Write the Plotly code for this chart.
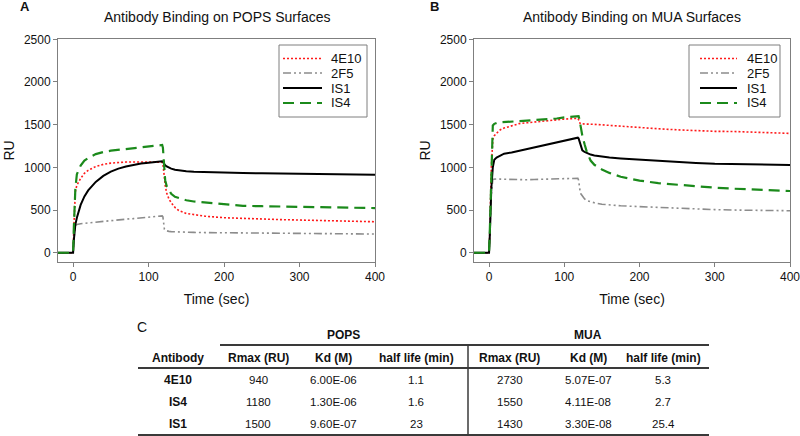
import plotly.graph_objects as go

W, H = 800, 436

# ---------------- data ----------------
time_sec = [-20, -1, 0, 1, 2, 3, 5, 7, 10, 15, 20, 30, 40, 50, 60, 70, 80, 90, 100, 110,
            118, 119, 120, 121, 122, 124, 127, 130, 135, 140, 150, 160, 175, 200, 225,
            250, 275, 300, 325, 350, 375, 400]

series_names = ["4E10", "2F5", "IS1", "IS4"]

# Panel A: POPS surfaces
pops_4e10 = [0, 0, 0, 300, 550, 720, 790, 830, 870, 930, 965, 1010, 1035, 1050, 1058, 1062, 1063,
             1064, 1063, 1062, 1060, 1040, 980, 880, 790, 700, 630, 585, 530, 495, 460, 445, 428,
             410, 400, 392, 388, 383, 378, 372, 368, 363]
pops_2f5 = [0, 0, 0, 150, 280, 320, 330, 335, 340, 345, 350, 360, 368, 375, 385, 393, 400, 410,
            418, 425, 432, 420, 330, 275, 262, 255, 250, 247, 244, 242, 240, 238, 236, 233, 231,
            229, 228, 226, 225, 223, 221, 219]
pops_is1 = [0, 0, 0, 150, 260, 330, 410, 480, 560, 660, 730, 830, 900, 950, 985, 1010, 1030, 1045,
            1055, 1065, 1072, 1065, 1050, 1035, 1025, 1010, 995, 985, 972, 965, 955, 948, 943, 938,
            934, 930, 928, 926, 923, 920, 917, 914]
pops_is4 = [0, 0, 0, 300, 550, 750, 920, 960, 1020, 1080, 1110, 1155, 1180, 1195, 1205, 1215, 1223,
            1232, 1240, 1250, 1262, 1230, 1100, 950, 850, 780, 730, 690, 655, 640, 615, 600, 588,
            565, 550, 545, 541, 538, 533, 530, 527, 523]

# Panel B: MUA surfaces
mua_4e10 = [0, 0, 0, 250, 600, 1000, 1330, 1370, 1400, 1440, 1460, 1490, 1512, 1522, 1532, 1540,
            1550, 1558, 1565, 1570, 1575, 1560, 1530, 1515, 1510, 1508, 1507, 1506, 1505, 1504,
            1498, 1490, 1476, 1466, 1452, 1440, 1430, 1422, 1420, 1415, 1408, 1398]
mua_2f5 = [0, 0, 0, 200, 450, 680, 860, 865, 865, 862, 860, 860, 858, 855, 858, 860, 862, 862, 865,
           868, 872, 850, 760, 720, 690, 660, 630, 610, 595, 585, 568, 560, 550, 540, 530, 522, 512,
           505, 500, 496, 493, 492]
mua_is1 = [0, 0, 0, 200, 480, 750, 1000, 1090, 1115, 1140, 1160, 1175, 1195, 1215, 1235, 1255, 1272,
           1290, 1310, 1328, 1348, 1340, 1310, 1270, 1235, 1200, 1180, 1165, 1150, 1140, 1125, 1115,
           1105, 1090, 1075, 1062, 1052, 1042, 1037, 1040, 1035, 1027]
mua_is4 = [0, 0, 0, 250, 600, 1000, 1490, 1510, 1520, 1527, 1530, 1537, 1542, 1548, 1553, 1558,
           1563, 1572, 1585, 1596, 1605, 1600, 1570, 1520, 1460, 1370, 1270, 1180, 1080, 1030, 975,
           935, 890, 845, 815, 795, 775, 762, 750, 742, 732, 723]

x_ticks = [0, 100, 200, 300, 400]
y_ticks = [0, 500, 1000, 1500, 2000, 2500]

# Panel C table
table_antibodies = ["4E10", "IS4", "IS1"]
table_col_headers = ["Antibody", "Rmax (RU)", "Kd (M)", "half life (min)",
                     "Rmax (RU)", "Kd (M)", "half life (min)"]
table_groups = ["POPS", "MUA"]
pops_rmax = [940, 1180, 1500]
pops_kd = [6.00e-06, 1.30e-06, 9.60e-07]
pops_half_life = ["1.1", "1.6", "23"]
mua_rmax = [2730, 1550, 1430]
mua_kd = [5.07e-07, 4.11e-08, 3.30e-08]
mua_half_life = ["5.3", "2.7", "25.4"]

# ---------------- styling ----------------
FONT = "Liberation Sans, Arial, sans-serif"
styles = {
    "4E10": dict(color="#ff1a1a", width=1.6, dash="2px,2px"),
    "2F5": dict(color="#8c8c8c", width=1.6, dash="8px,3px,2px,3px,2px,3px"),
    "IS1": dict(color="#000000", width=2.0, dash="solid"),
    "IS4": dict(color="#1b8a1b", width=2.2, dash="11px,6px"),
}


def px(x):
    return x / W


def py(y):
    return 1 - y / H


fig = go.Figure()

panels = [
    ("x", "y", [pops_4e10, pops_2f5, pops_is1, pops_is4]),
    ("x2", "y2", [mua_4e10, mua_2f5, mua_is1, mua_is4]),
]
for xa, ya, data in panels:
    for name, vals in zip(series_names, data):
        fig.add_trace(go.Scatter(
            x=time_sec, y=vals, mode="lines", name=name, showlegend=False,
            line=styles[name], xaxis=xa, yaxis=ya,
        ))

axis_common = dict(
    showline=True, linecolor="#7f7f7f", linewidth=1, mirror=True,
    ticks="outside", ticklen=4, tickcolor="#7f7f7f", showgrid=False, zeroline=False,
    tickfont=dict(family=FONT, size=12, color="#111111"), automargin=False,
    ticklabeloverflow="allow",
)
y_top, y_bot = 39.3, 261.7

fig.update_layout(
    width=W, height=H, autosize=False,
    margin=dict(l=0, r=0, t=0, b=0, autoexpand=False),
    paper_bgcolor="white", plot_bgcolor="white",
    font=dict(family=FONT, color="#111111"),
    xaxis=dict(domain=[px(58), px(375)], range=[-20, 400], tickvals=x_ticks, anchor="y",
               title=dict(text="Time (sec)", font=dict(size=14), standoff=11), **axis_common),
    yaxis=dict(domain=[py(y_bot), py(y_top)], range=[-105, 2500], tickvals=y_ticks, anchor="x",
               title=dict(text="RU", font=dict(size=14), standoff=5), **axis_common),
    xaxis2=dict(domain=[px(474), px(790)], range=[-20, 400], tickvals=x_ticks, anchor="y2",
                title=dict(text="Time (sec)", font=dict(size=14), standoff=11), **axis_common),
    yaxis2=dict(domain=[py(y_bot), py(y_top)], range=[-105, 2500], tickvals=y_ticks, anchor="x2",
                title=dict(text="RU", font=dict(size=14), standoff=5), **axis_common),
)

annotations = []
shapes = []


def text(x, y, s, size=12, bold=False, xanchor="center"):
    annotations.append(dict(
        x=px(x), y=py(y), xref="paper", yref="paper", text=f"<b>{s}</b>" if bold else s,
        showarrow=False, xanchor=xanchor, yanchor="middle",
        font=dict(family=FONT, size=size, color="#111111"),
    ))


def hline(x0, x1, y, line):
    shapes.append(dict(type="line", xref="paper", yref="paper",
                       x0=px(x0), x1=px(x1), y0=py(y), y1=py(y), line=line))


# legends (one per panel): box, line samples and labels
legend_boxes = [(279, 367, 45, 117, 283, 322, 329), (689, 780, 45, 117, 700, 737, 745)]
legend_rows = [58.5, 73, 88, 103]
for bx0, bx1, by0, by1, sx0, sx1, tx in legend_boxes:
    shapes.append(dict(type="rect", xref="paper", yref="paper",
                       x0=px(bx0), x1=px(bx1), y0=py(by1), y1=py(by0),
                       line=dict(color="#7f7f7f", width=1), fillcolor="white"))
    for ry, name in zip(legend_rows, series_names):
        hline(sx0, sx1, ry, styles[name])
        text(tx, ry, name, size=13, xanchor="left")

# panel letters and titles
text(24.5, 7, "A", size=13, bold=True)
text(434, 7, "B", size=13, bold=True)
text(142, 327, "C", size=14, bold=False)
text(216.5, 17, "Antibody Binding on POPS Surfaces", size=14)
text(632, 17, "Antibody Binding on MUA Surfaces", size=14)

# table
col_x = [178, 258, 333, 416, 510, 588, 663]
group_x = [343, 588]
header_y = 357.5
row_y = [380, 402, 424]

for gx, g in zip(group_x, table_groups):
    text(gx, 335, g, size=12, bold=True)
for cx, h in zip(col_x, table_col_headers):
    text(cx, header_y, h, size=12, bold=True)

for i, ab in enumerate(table_antibodies):
    cells = [str(pops_rmax[i]), f"{pops_kd[i]:.2E}", pops_half_life[i],
             str(mua_rmax[i]), f"{mua_kd[i]:.2E}", mua_half_life[i]]
    text(col_x[0], row_y[i], ab, size=12, bold=True)
    for cx, c in zip(col_x[1:], cells):
        text(cx, row_y[i], c, size=11.5)

rule = dict(color="#3a3a3a", width=2)
hline(220, 709, 345, rule)
hline(138, 709, 368, rule)
hline(138, 709, 435, rule)
shapes.append(dict(type="line", xref="paper", yref="paper", x0=px(468), x1=px(468),
                   y0=py(345), y1=py(435), line=dict(color="#3a3a3a", width=1.5)))

fig.update_layout(annotations=annotations, shapes=shapes)
fig.write_html(
    "out.html",
    config={"displayModeBar": False},
    post_script="document.body.style.margin='0px';document.body.style.overflow='hidden';",
)
